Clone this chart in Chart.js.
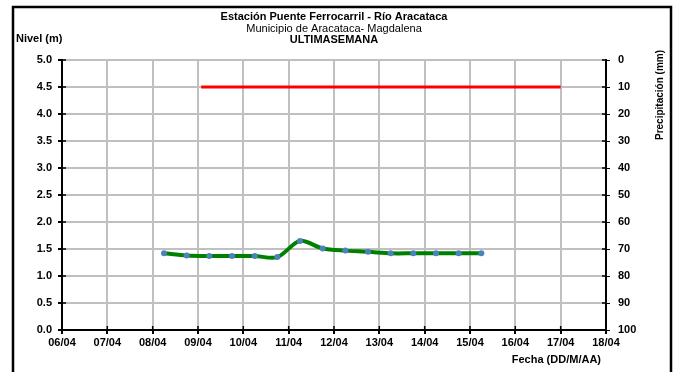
<!DOCTYPE html>
<html>
<head>
<meta charset="utf-8">
<script src="https://cdn.jsdelivr.net/npm/chart.js@4.4.0/dist/chart.umd.min.js"></script>
<style>
  html, body { margin: 0; padding: 0; background: #fff; }
  #wrap { width: 682px; height: 372px; }
</style>
</head>
<body>
<div id="wrap"><canvas id="grafico" width="682" height="372"></canvas></div>
<script>
// Eje de fechas (día del mes) y sus etiquetas
const diasEje = [6, 7, 8, 9, 10, 11, 12, 13, 14, 15, 16, 17, 18];
const etiquetasFecha = ['06/04', '07/04', '08/04', '09/04', '10/04', '11/04', '12/04',
                        '13/04', '14/04', '15/04', '16/04', '17/04', '18/04'];

// Lecturas de nivel (día con fracción, metros)
const horasNivel = [8.25, 8.75, 9.25, 9.75, 10.25, 10.75, 11.25, 11.75,
                    12.25, 12.75, 13.25, 13.75, 14.25, 14.75, 15.25];
const nivel = [1.42, 1.38, 1.37, 1.37, 1.37, 1.35, 1.65, 1.51,
               1.47, 1.45, 1.42, 1.42, 1.42, 1.42, 1.42];

// Nivel de alerta (línea roja)
const alertaX = [9.07, 17];
const alertaY = [4.5, 4.5];

// Marcas de los ejes
const ticksNivel = [0, 0.5, 1, 1.5, 2, 2.5, 3, 3.5, 4, 4.5, 5];
const ticksPrecip = [0, 10, 20, 30, 40, 50, 60, 70, 80, 90, 100];

const fuente = '"Liberation Sans", Arial, sans-serif';
const fuenteTicks = { family: fuente, size: 11, weight: 'bold' };

// Textos, marco y marcas internas de los ejes
const decoracion = {
    id: 'decoracion',
    afterDraw(chart) {
        const ctx = chart.ctx;
        const area = chart.chartArea;
        ctx.save();
        ctx.fillStyle = '#000';
        ctx.textAlign = 'center';
        ctx.textBaseline = 'middle';
        ctx.font = 'bold 11px ' + fuente;
        ctx.fillText('Estación Puente Ferrocarril - Río Aracataca', 334, 17);
        ctx.font = '11px ' + fuente;
        ctx.fillText('Municipio de Aracataca- Magdalena', 334, 29);
        ctx.font = 'bold 11px ' + fuente;
        ctx.fillText('ULTIMASEMANA', 334, 40);

        ctx.textAlign = 'left';
        ctx.fillText('Nivel (m)', 16, 39);
        ctx.textAlign = 'right';
        ctx.fillText('Fecha (DD/M/AA)', 601, 360);

        // título del eje derecho
        ctx.save();
        ctx.translate(660, 95);
        ctx.rotate(-Math.PI / 2);
        ctx.textAlign = 'center';
        ctx.font = 'bold 10px ' + fuente;
        ctx.fillText('Precipitación (mm)', 0, 0);
        ctx.restore();

        // marcas que cruzan los ejes hacia adentro
        ctx.strokeStyle = '#000';
        ctx.lineWidth = 1.5;
        ctx.beginPath();
        chart.scales.y.ticks.forEach(t => {
            const py = chart.scales.y.getPixelForValue(t.value);
            ctx.moveTo(area.left, py); ctx.lineTo(area.left + 4, py);
            ctx.moveTo(area.right, py); ctx.lineTo(area.right - 4, py);
        });
        chart.scales.x.ticks.forEach(t => {
            const px = chart.scales.x.getPixelForValue(t.value);
            ctx.moveTo(px, area.bottom); ctx.lineTo(px, area.bottom - 4);
        });
        ctx.stroke();

        // marco
        ctx.lineWidth = 2.5;
        ctx.strokeRect(13, 7, 658, 374);
        ctx.restore();
    }
};

new Chart(document.getElementById('grafico'), {
    type: 'line',
    data: {
        datasets: [
            {
                label: 'Alerta',
                data: alertaX.map((x, i) => ({ x: x, y: alertaY[i] })),
                borderColor: '#ff0000',
                borderWidth: 3,
                pointRadius: 0,
                yAxisID: 'y'
            },
            {
                label: 'Nivel',
                data: horasNivel.map((x, i) => ({ x: x, y: nivel[i] })),
                borderColor: '#008000',
                borderWidth: 4,
                tension: 0.3,
                pointRadius: 3,
                pointBorderWidth: 0,
                pointBackgroundColor: '#4f81bd',
                yAxisID: 'y'
            }
        ]
    },
    options: {
        responsive: false,
        animation: false,
        devicePixelRatio: 1,
        layout: { padding: { top: 60, left: 0, right: 0, bottom: 0 } },
        plugins: {
            legend: { display: false },
            tooltip: { enabled: false }
        },
        scales: {
            x: {
                type: 'linear',
                min: 6,
                max: 18,
                afterBuildTicks: s => { s.ticks = diasEje.map(v => ({ value: v })); },
                afterFit: s => { s.height = 42; },
                ticks: {
                    color: '#000',
                    font: fuenteTicks,
                    padding: 2,
                    maxRotation: 0,
                    callback: v => etiquetasFecha[diasEje.indexOf(v)]
                },
                grid: { color: '#c0c0c0', lineWidth: 2, tickColor: '#000', tickLength: 4 },
                border: { color: '#000', width: 2 }
            },
            y: {
                position: 'left',
                min: 0,
                max: 5,
                afterBuildTicks: s => { s.ticks = ticksNivel.map(v => ({ value: v })); },
                afterFit: s => { s.width = 62; },
                ticks: {
                    color: '#000',
                    font: fuenteTicks,
                    padding: 6,
                    callback: v => v.toFixed(1)
                },
                grid: { color: '#c0c0c0', lineWidth: 2, tickColor: '#000', tickLength: 4 },
                border: { color: '#000', width: 2 }
            },
            y2: {
                position: 'right',
                min: 0,
                max: 100,
                reverse: true,
                afterBuildTicks: s => { s.ticks = ticksPrecip.map(v => ({ value: v })); },
                afterFit: s => { s.width = 76; },
                ticks: {
                    color: '#000',
                    font: fuenteTicks,
                    padding: 8,
                    callback: v => String(v)
                },
                grid: { drawOnChartArea: false, tickColor: '#000', tickLength: 4 },
                border: { color: '#000', width: 2 }
            }
        }
    },
    plugins: [decoracion]
});
</script>
</body>
</html>
